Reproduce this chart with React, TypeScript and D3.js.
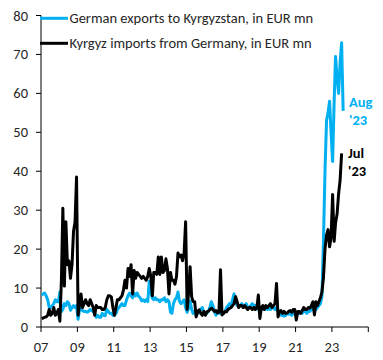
import React from 'react';
import * as d3 from 'd3';

// monthly values, EUR mn, starting Jan 2007
const startYear = 2007;

// German exports to Kyrgyzstan (blue), Jan 07 - Aug 23
const germanExports = [
  8.2, 8.5, 8.7, 8, 7, 5, 5, 5.5, 6, 7, 6.5, 6.5, // 07
  9, 4, 4.5, 6, 5.5, 6.5, 6, 4.3, 5, 5.5, 5, 5.5, // 08
  2, 4.5, 5, 4.2, 4, 4, 3.8, 4, 4.5, 4.2, 4, 3.5, // 09
  2.5, 3, 2.5, 2.5, 3.5, 3, 2.9, 4.5, 4, 3.5, 3.5, 3, // 10
  3, 3.5, 4.5, 5, 5.5, 6, 5.5, 5.5, 7, 8, 8.7, 8, // 11
  7.5, 8.7, 8, 8.7, 7.9, 7.5, 6.7, 7, 6.5, 7, 6.5, 11.7, // 12
  9, 7.4, 7, 7.5, 7, 7, 6.5, 7, 7, 7.5, 6.5, 7, // 13
  6.5, 3.8, 3.5, 6, 7, 7.5, 9, 6.5, 6, 6.5, 7, 5, // 14
  3.8, 5, 6.7, 4.5, 3.5, 4, 3, 3.5, 4, 4.5, 5, 4, // 15
  3.5, 3.5, 4, 5, 6.5, 5.5, 4, 3, 4, 3.5, 3.5, 4, // 16
  3.5, 4, 5, 5.5, 6, 5.5, 7, 8.5, 6.5, 5.5, 5.5, 5.5, // 17
  6, 5.5, 5.5, 6, 5, 5, 5.5, 6, 5.5, 5.5, 5, 4.5, // 18
  4, 4.5, 5, 4.5, 5, 4.5, 5, 4.5, 5, 5, 4.5, 5, // 19
  4, 4, 3, 3, 2.8, 3, 3.5, 3.3, 3.5, 3, 3.5, 4, // 20
  3, 3.5, 3.5, 4, 3.5, 4, 4, 3.5, 4, 4, 4.5, 5, // 21
  4, 4.5, 5, 5.5, 6, 8, 22, 40, 53, 55, 58, 50, // 22
  42.5, 58, 69.5, 64, 60, 68, 73, 55.5, // 23
];

// Kyrgyz imports from Germany (black), Jan 07 - Jul 23
const kyrgyzImports = [
  2.2, 2.3, 2.5, 2.6, 3, 4.5, 3, 3.5, 5, 3, 3.5, 4.5, // 07
  1.5, 12, 30.5, 10.5, 27, 16, 17, 12.5, 16, 24.5, 27, 38.5, // 08
  3, 6, 8.5, 5, 6, 7, 6, 5.5, 7, 6, 5, 3, // 09
  5.5, 5, 5, 5, 4.5, 4.5, 5, 7, 8, 8, 7.7, 5, // 10
  3, 5, 7, 7, 7.5, 8, 9.5, 12, 10, 15, 13, 16, // 11
  8.5, 14.5, 12.5, 14, 13.5, 13, 12.5, 13, 12.5, 12, 13, 15, // 12
  13, 8, 14, 14, 13.5, 18, 13.5, 18, 14, 14.5, 17.5, 15, // 13
  8.5, 14, 12, 12, 11, 13, 19, 18, 18.5, 17, 19, 27, // 14
  4.5, 9, 15.5, 7.8, 6.5, 6.5, 2.6, 4, 4.4, 3.5, 3, 4, // 15
  3, 3.9, 4, 4.5, 4.8, 4.5, 4, 4.2, 3.6, 3.8, 14.7, 3.1, // 16
  3.5, 4, 3.9, 4.5, 4.8, 5, 5.5, 6, 7.8, 6.5, 5, 5.5, // 17
  5.5, 5, 5.5, 5, 4.5, 5, 5, 4.5, 5, 4.5, 5, 8.2, // 18
  2.2, 5, 5.5, 4.5, 5.5, 5, 5.5, 6, 5, 5.5, 6, 11.2, // 19
  2.6, 4, 4.2, 3.5, 4, 3.5, 3.6, 4, 4.2, 3.8, 4.5, 4.5, // 20
  1.8, 4, 4, 3.5, 4.2, 5, 4.5, 4.5, 5, 4.8, 5.5, 6.5, // 21
  3.1, 6.5, 5.5, 6.5, 7.5, 9, 12.6, 20, 23.6, 25, 20.6, 23, // 22
  34, 22, 26.7, 29, 34.2, 37.8, 44.6, // 23
];

const yTicks = [0, 10, 20, 30, 40, 50, 60, 70, 80];
const xTickYears = [2007, 2009, 2011, 2013, 2015, 2017, 2019, 2021, 2023, 2025];
const xLabelYears = [2007, 2009, 2011, 2013, 2015, 2017, 2019, 2021, 2023];

const legendLabels = ['German exports to Kyrgyzstan, in EUR mn', 'Kyrgyz imports from Germany, in EUR mn'];

const BLUE = '#00b0f0';
const TEXT = '#262626';
const FONT = "Carlito, Calibri, 'Liberation Sans', Arial, sans-serif";
const FS = 14.5;

const toPoints = (vals: number[]) =>
  vals.map((v, i) => ({ date: new Date(startYear, i, 15), v }));

export default function App() {
  const width = 383;
  const height = 360;

  const x = d3.scaleTime()
    .domain([new Date(2007, 0, 1), new Date(2025, 0, 1)])
    .range([41, 368.3]);
  const y = d3.scaleLinear().domain([0, 80]).range([327, 15.5]);

  const line = d3.line<{ date: Date; v: number }>()
    .x(d => x(d.date))
    .y(d => y(d.v));

  const blue = toPoints(germanExports);
  const black = toPoints(kyrgyzImports);

  return (
    <div style={{ position: 'absolute', left: 0, top: 0 }}>
      <svg width={width} height={height} style={{ display: 'block', background: '#fff' }} fontFamily={FONT}>
        {/* y axis */}
        <line x1={41} x2={41} y1={y(80)} y2={y(0)} stroke="#000" strokeWidth={1} />
        {yTicks.map(t => (
          <g key={t}>
            <line x1={36} x2={41} y1={y(t)} y2={y(t)} stroke="#000" />
            <text x={28} y={y(t) + 5} textAnchor="end" fontSize={FS} fill={TEXT}>{t}</text>
          </g>
        ))}
        {/* x axis */}
        <line x1={41} x2={368.3} y1={327} y2={327} stroke="#000" />
        {xTickYears.map(yr => (
          <line key={yr} x1={x(new Date(yr, 0, 1))} x2={x(new Date(yr, 0, 1))} y1={327} y2={332} stroke="#000" />
        ))}
        {xLabelYears.map(yr => (
          <text key={yr} x={x(new Date(yr, 0, 1))} y={352} textAnchor="middle" fontSize={FS} fill={TEXT}>
            {String(yr).slice(2)}
          </text>
        ))}

        {/* series */}
        <path d={line(blue) ?? ''} fill="none" stroke={BLUE} strokeWidth={3} strokeLinejoin="round" />
        <path d={line(black) ?? ''} fill="none" stroke="#000" strokeWidth={3} strokeLinejoin="round" />

        {/* legend */}
        <line x1={40} x2={68} y1={18.3} y2={18.3} stroke={BLUE} strokeWidth={3} />
        <text x={69.5} y={23} fontSize={FS} fill={TEXT}>{legendLabels[0]}</text>
        <line x1={40} x2={68} y1={43.3} y2={43.3} stroke="#000" strokeWidth={3} />
        <text x={69.5} y={48} fontSize={FS} fill={TEXT}>{legendLabels[1]}</text>

        {/* end labels */}
        <text x={349} y={107} fontSize={FS} fontWeight="bold" fill={BLUE}>Aug</text>
        <text x={349} y={125} fontSize={FS} fontWeight="bold" fill={BLUE}>'23</text>
        <text x={348} y={158} fontSize={FS} fontWeight="bold" fill="#000">Jul</text>
        <text x={348} y={176} fontSize={FS} fontWeight="bold" fill="#000">'23</text>
      </svg>
    </div>
  );
}
